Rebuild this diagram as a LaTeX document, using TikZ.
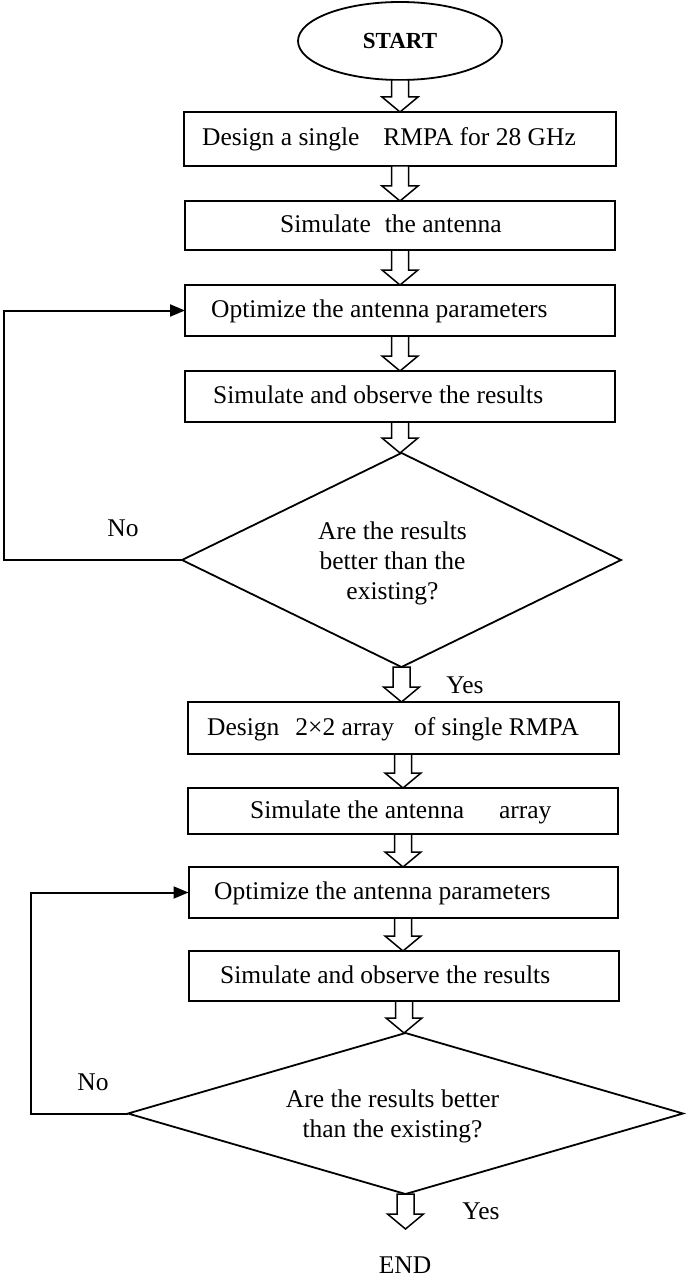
\documentclass[tikz,border=0pt]{standalone}
\usepackage{fontspec}
\setmainfont{Liberation Serif}
\usetikzlibrary{shapes.geometric,arrows.meta,calc}
\begin{document}
\begin{tikzpicture}[x=1pt,y=-1pt,
  box/.style={draw,line width=2pt,inner sep=0pt,outer sep=0pt},
  dia/.style={draw,diamond,line width=1.8pt,inner sep=0pt,outer sep=0pt},
  txt/.style={font=\fontsize{25.5}{30}\selectfont,inner sep=0pt,anchor=west,text height=16.8pt,text depth=0pt},
  dtxt/.style={font=\fontsize{25.5}{30}\selectfont,inner sep=0pt,align=center},
  lbl/.style={font=\fontsize{25.5}{30}\selectfont,inner sep=0pt,text height=16.8pt,text depth=0pt},
  harrow/.style={draw,line width=1.5pt,line join=miter,fill=white,
    to path={let \p1=(\tikztostart),\p2=(\tikztotarget) in
      (\x1-8.5pt,\y1) -- (\x1+8.5pt,\y1) -- (\x1+8.5pt,\y2+15pt) -- (\x1+18pt,\y2+15pt)
      -- (\x1,\y2) -- (\x1-18pt,\y2+15pt) -- (\x1-8.5pt,\y2+15pt) -- cycle}},
  loopline/.style={draw,line width=2pt,-{Triangle[length=15pt,width=12pt]}}
]
\useasboundingbox (0,0) rectangle (685,1281);

% nodes
\node[draw,ellipse,line width=1.8pt,minimum width=204pt,minimum height=78pt,inner sep=0pt,outer sep=0pt,
      font=\fontsize{23}{27}\selectfont\bfseries] (start) at (400,41) {START};

\node[box,minimum width=432pt,minimum height=54pt] (b1) at (400,139) {};
\node[box,minimum width=430pt,minimum height=49pt] (b2) at (400,225.5) {};
\node[box,minimum width=430pt,minimum height=51pt] (b3) at (400,310.5) {};
\node[box,minimum width=430pt,minimum height=51pt] (b4) at (400,396.5) {};
\node[dia,minimum width=439pt,minimum height=214pt] (d1) at (401.5,560) {};
\node[box,minimum width=431pt,minimum height=52pt] (b5) at (403,728) {};
\node[box,minimum width=430pt,minimum height=46pt] (b6) at (403,811) {};
\node[box,minimum width=429pt,minimum height=51pt] (b7) at (403,892.5) {};
\node[box,minimum width=430pt,minimum height=50pt] (b8) at (404,976) {};
\node[dia,minimum width=555pt,minimum height=161pt] (d2) at (405.5,1113.5) {};

% texts
\node[txt] (t1) at (202,137) {Design a single\hspace{24pt}RMPA for 28 GHz};
\node[txt] (t2) at (280,224) {Simulate\hspace{14pt}the antenna};
\node[txt] (t3) at (211,309) {Optimize the antenna parameters};
\node[txt] (t4) at (213,395) {Simulate and observe the results};
\node[dtxt] (t5) at (392.5,563.5) {Are the results\\better than the\\existing?};
\node[txt] (t6) at (207,727) {Design\hspace{16pt}2×2 array\hspace{20pt}of single RMPA};
\node[txt] (t7) at (250,810) {Simulate the antenna\hspace{35pt}array};
\node[txt] (t8) at (214,891) {Optimize the antenna parameters};
\node[txt] (t9) at (220,975) {Simulate and observe the results};
\node[dtxt] (t10) at (392.5,1116) {Are the results better\\than the existing?};

\node[lbl] (no1) at (123,528) {No};
\node[lbl] (yes1) at (465,685) {Yes};
\node[lbl] (no2) at (93,1082) {No};
\node[lbl] (yes2) at (481,1211) {Yes};
\node[lbl] (end) at (405,1265) {END};
\coordinate (endtip) at (405,1229);

% hollow arrows
\draw[harrow] (start.south) to (b1.north);
\draw[harrow] (b1.south) to (b2.north);
\draw[harrow] (b2.south) to (b3.north);
\draw[harrow] (b3.south) to (b4.north);
\draw[harrow] (b4.south) to (d1.north);
\draw[harrow] (d1.south) to (b5.north);
\draw[harrow] (b5.south) to (b6.north);
\draw[harrow] (b6.south) to (b7.north);
\draw[harrow] (b7.south) to (b8.north);
\draw[harrow] (b8.south) to (d2.north);
\draw[harrow] (d2.south) to (endtip);

% loops
\coordinate (l1) at (4,0);
\coordinate (l2) at (31,0);
\draw[loopline] (d1.west) -- (d1.west -| l1) |- (b3.west);
\draw[loopline] (d2.west) -- (d2.west -| l2) |- (b7.west);
\end{tikzpicture}
\end{document}
